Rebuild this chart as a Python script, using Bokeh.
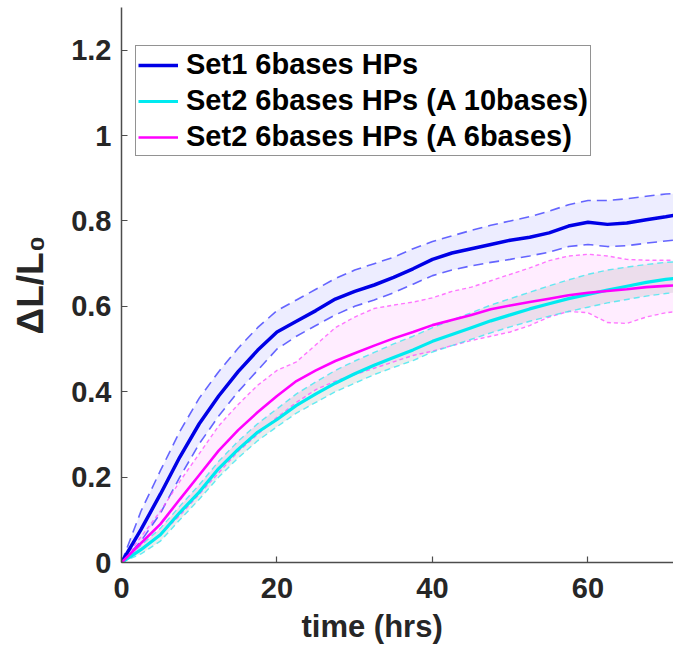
from bokeh.plotting import figure
from bokeh.models import Range1d, FixedTicker, Title
from bokeh.embed import file_html
from bokeh.resources import INLINE

# ---- data (time in hrs, relative length change) ----
t = [0, 2.5, 5, 7.5, 10, 12.5, 15, 17.5, 20, 22.5, 25, 27.5, 30, 32.5, 35,
     37.5, 40, 42.5, 45, 47.5, 50, 52.5, 55, 57.5, 60, 62.5, 65, 67.5, 70, 71]

set1_mean = [0, 0.077, 0.16, 0.247, 0.325, 0.39, 0.447, 0.497, 0.54, 0.565, 0.59,
             0.617, 0.635, 0.65, 0.668, 0.688, 0.71, 0.725, 0.735, 0.745, 0.755,
             0.762, 0.772, 0.788, 0.797, 0.792, 0.795, 0.803, 0.81, 0.813]
set1_upper = [0, 0.12, 0.215, 0.307, 0.385, 0.447, 0.502, 0.55, 0.59, 0.615, 0.64,
              0.665, 0.685, 0.7, 0.715, 0.735, 0.752, 0.765, 0.778, 0.79, 0.8,
              0.81, 0.823, 0.838, 0.848, 0.848, 0.852, 0.858, 0.863, 0.864]
set1_lower = [0, 0.05, 0.115, 0.2, 0.278, 0.343, 0.4, 0.45, 0.5, 0.53, 0.555,
              0.58, 0.6, 0.615, 0.632, 0.652, 0.672, 0.685, 0.695, 0.703, 0.71,
              0.718, 0.727, 0.74, 0.745, 0.74, 0.742, 0.748, 0.753, 0.755]

a10_mean = [0, 0.03, 0.065, 0.117, 0.165, 0.22, 0.265, 0.305, 0.335, 0.368, 0.395,
            0.42, 0.442, 0.462, 0.48, 0.498, 0.518, 0.534, 0.55, 0.566, 0.58,
            0.594, 0.606, 0.618, 0.628, 0.638, 0.647, 0.656, 0.663, 0.665]
a10_upper = [0, 0.04, 0.08, 0.132, 0.182, 0.237, 0.284, 0.325, 0.36, 0.395, 0.423,
             0.45, 0.472, 0.492, 0.512, 0.53, 0.55, 0.568, 0.585, 0.603, 0.618,
             0.633, 0.648, 0.662, 0.675, 0.685, 0.692, 0.698, 0.703, 0.704]
a10_lower = [0, 0.02, 0.05, 0.1, 0.148, 0.2, 0.245, 0.285, 0.318, 0.35, 0.375,
             0.4, 0.42, 0.44, 0.457, 0.473, 0.493, 0.508, 0.523, 0.538, 0.552,
             0.565, 0.577, 0.588, 0.598, 0.608, 0.616, 0.624, 0.63, 0.632]

a6_mean = [0, 0.045, 0.09, 0.148, 0.205, 0.262, 0.31, 0.352, 0.39, 0.425, 0.45,
           0.472, 0.49, 0.508, 0.525, 0.54, 0.556, 0.568, 0.58, 0.593, 0.602,
           0.61, 0.618, 0.626, 0.632, 0.636, 0.64, 0.645, 0.648, 0.649]
a6_upper = [0, 0.06, 0.12, 0.19, 0.255, 0.32, 0.37, 0.415, 0.45, 0.47, 0.51,
            0.55, 0.575, 0.595, 0.603, 0.61, 0.62, 0.635, 0.645, 0.66, 0.675,
            0.69, 0.707, 0.718, 0.722, 0.718, 0.71, 0.708, 0.708, 0.708]
a6_lower = [0, 0.03, 0.065, 0.11, 0.16, 0.21, 0.26, 0.3, 0.34, 0.375, 0.405,
            0.425, 0.44, 0.455, 0.47, 0.485, 0.495, 0.508, 0.52, 0.53, 0.54,
            0.555, 0.575, 0.588, 0.585, 0.562, 0.56, 0.575, 0.585, 0.587]

labels = ["Set1 6bases HPs", "Set2 6bases HPs (A 10bases)", "Set2 6bases HPs (A 6bases)"]
x_ticks = [0, 20, 40, 60]
y_ticks = [0, 0.2, 0.4, 0.6, 0.8, 1, 1.2]
x_label = "time (hrs)"
y_label = "ΔL/L₀"

FONT = "Liberation Sans"
DARK = "#262626"

p = figure(width=673, height=649, output_backend="svg", toolbar_location=None,
           x_range=Range1d(0, 71), y_range=Range1d(0, 1.3),
           min_border_left=121, min_border_right=0, min_border_top=7,
           min_border_bottom=87)
p.outline_line_color = None
p.grid.visible = False
p.background_fill_color = "white"

# bands
p.varea(x=t, y1=set1_lower, y2=set1_upper, fill_color="#0000ff", fill_alpha=0.07)
p.varea(x=t, y1=a6_lower, y2=a6_upper, fill_color="#ff00ff", fill_alpha=0.07)
p.varea(x=t, y1=a10_lower, y2=a10_upper, fill_color="#a0a0a0", fill_alpha=0.2)

# dashed bounds
for arr in (set1_upper, set1_lower):
    p.line(t, arr, line_color="#4040ff", line_alpha=0.8, line_width=1.6, line_dash="10 6")
for arr in (a6_upper, a6_lower):
    p.line(t, arr, line_color="#ff55ff", line_alpha=0.8, line_width=1.4, line_dash="4 3")
for arr in (a10_upper, a10_lower):
    p.line(t, arr, line_color="#40e8f0", line_alpha=0.8, line_width=1.4, line_dash="6 4")

# means
p.line(t, set1_mean, line_color="#0000e6", line_width=3.5, legend_label=labels[0])
p.line(t, a10_mean, line_color="#00eaf0", line_width=3.2, legend_label=labels[1])
p.line(t, a6_mean, line_color="#ff00ff", line_width=2.6, legend_label=labels[2])

# axes
for ax in (p.xaxis, p.yaxis):
    ax.axis_line_color = "#4d4d4d"
    ax.axis_line_width = 1.5
    ax.major_tick_line_color = "#4d4d4d"
    ax.major_tick_line_width = 1.2
    ax.major_tick_in = 6
    ax.major_tick_out = 0
    ax.minor_tick_line_color = None
    ax.major_label_text_font = FONT
    ax.major_label_text_font_style = "bold"
    ax.major_label_text_font_size = "29px"
    ax.major_label_text_color = DARK
p.xaxis.ticker = FixedTicker(ticks=x_ticks)
p.yaxis.ticker = FixedTicker(ticks=y_ticks)
p.yaxis.major_label_overrides = {0: "0", 1: "1"}
p.xaxis.major_label_standoff = 15
p.yaxis.major_label_standoff = 10

p.yaxis.axis_label = y_label
p.yaxis.axis_label_text_font = FONT
p.yaxis.axis_label_text_font_style = "bold"
p.yaxis.axis_label_text_font_size = "37px"
p.yaxis.axis_label_text_color = DARK
p.yaxis.axis_label_standoff = 17

p.add_layout(Title(text=x_label, align="left", offset=180, standoff=12,
                   text_font=FONT, text_font_style="bold", text_font_size="31px",
                   text_color=DARK), "below")

# legend
lg = p.legend[0]
lg.location = (14, 406)
lg.label_text_font = FONT
lg.label_text_font_style = "bold"
lg.label_text_font_size = "29px"
lg.label_text_color = "black"
lg.glyph_width = 40
lg.glyph_height = 20
lg.label_standoff = 8
lg.spacing = 3
lg.padding = 2
lg.margin = 0
lg.border_line_color = DARK
lg.border_line_width = 1
lg.background_fill_color = "white"
lg.background_fill_alpha = 1

open("out.html", "w").write(file_html(p, INLINE))
